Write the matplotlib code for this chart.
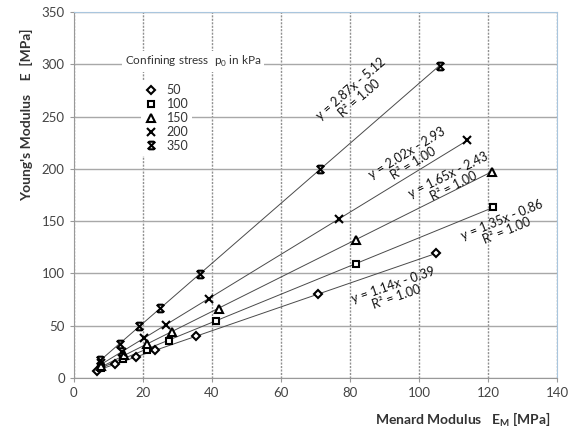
import matplotlib.pyplot as plt
from matplotlib.path import Path
import numpy as np

plt.rcParams['font.family'] = ['Lato', 'DejaVu Sans']

# Dữ liệu
stress = ['50', '100', '150', '200', '350']

em_50 = [6.6, 11.9, 18.0, 23.5, 35.3, 70.7, 105.0]
e_50 = [6.7, 13.4, 19.8, 26.8, 40.1, 80.0, 119.8]

em_100 = [7.8, 14.3, 21.1, 27.7, 41.2, 81.6, 121.5]
e_100 = [9.3, 18.2, 26.8, 35.7, 54.5, 109.0, 163.8]

em_150 = [8.0, 14.5, 21.1, 28.4, 42.1, 81.6, 121.0]
e_150 = [11.8, 22.0, 33.0, 43.7, 66.0, 132.0, 197.0]

em_200 = [8.0, 14.0, 20.3, 26.6, 39.2, 76.8, 114.0]
e_200 = [14.0, 25.0, 38.0, 50.7, 75.5, 152.0, 227.5]

em_350 = [7.7, 13.4, 19.0, 25.0, 36.6, 71.2, 106.0]
e_350 = [17.0, 33.0, 50.0, 67.0, 99.4, 199.8, 298.0]

slopes = [1.14, 1.35, 1.65, 2.02, 2.87]
intercepts = [-0.39, -0.86, -2.43, -2.93, -5.12]
r2 = [1.00, 1.00, 1.00, 1.00, 1.00]

# vị trí nhãn phương trình
label_x = [93, 124.6, 109.2, 97.3, 81.5]
label_y = [83, 146, 189, 210, 272]

# marker kiểu X có gạch trên/dưới
verts = [(-1, -1), (1, 1), (-1, 1), (1, -1), (-0.7, 1), (0.7, 1), (-0.7, -1), (0.7, -1)]
codes = [Path.MOVETO, Path.LINETO] * 4
xbar = Path(verts, codes)

markers = ['D', 's', '^', 'x', xbar]
msizes = [4, 5, 5.5, 5.5, 5.5]

fig = plt.figure(figsize=(5.68, 4.32), dpi=100)
ax = fig.add_axes([0.130, 0.125, 0.851, 0.847])

xs = [em_50, em_100, em_150, em_200, em_350]
ys = [e_50, e_100, e_150, e_200, e_350]

handles = []
for i in range(5):
    x = np.array(xs[i])
    xl = np.array([x.min(), x.max()])
    ax.plot(xl, slopes[i] * xl + intercepts[i], color='#4a4a4a', lw=0.7, zorder=2)
    h, = ax.plot(x, ys[i], linestyle='none', marker=markers[i], ms=msizes[i],
                 mfc='white', mec='black', mew=1.5, zorder=3, label=stress[i])
    handles.append(h)
    sign = '-' if intercepts[i] < 0 else '+'
    txt = f'y = {slopes[i]:.2f}x {sign} {abs(intercepts[i]):.2f}\nR² = {r2[i]:.2f}'
    ax.text(label_x[i], label_y[i], txt, rotation=np.degrees(np.arctan(slopes[i])),
            transform_rotates_text=True, rotation_mode='anchor',
            ha='center', va='center', fontsize=9, color='#111111',
            linespacing=1.0, zorder=4)

ax.set_xlim(0, 140)
ax.set_ylim(0, 350)
ax.set_xticks(range(0, 141, 20))
ax.set_yticks(range(0, 351, 50))

ax.grid(True, axis='y', color='#a8a8a8', lw=1.0, zorder=0)
ax.grid(True, axis='x', color='#909090', lw=1.0, ls=(0, (1.5, 1)), zorder=0)
ax.set_axisbelow(True)

for s in ['top', 'right']:
    ax.spines[s].set_color('#a9c6de')
for s in ['left', 'bottom']:
    ax.spines[s].set_color('#999999')
ax.tick_params(colors='#999999', labelcolor='#444444', labelsize=9.5, length=3)

ax.set_ylabel("Young's Modulus    E  [MPa]", fontsize=10, fontweight='bold', color='#333333')
ax.yaxis.set_label_coords(-0.085, 0.72)
ax.set_xlabel('Menard Modulus   E$_\\mathregular{M}$ [MPa]', fontsize=10,
              fontweight='bold', color='#333333', ha='right', va='center')
ax.xaxis.set_label_coords(0.985, -0.115)

# tiêu đề chú thích
ax.text(0.105, 0.865, 'Confining stress  p$_\\mathregular{0}$ in kPa', transform=ax.transAxes,
        fontsize=8.5, color='#333333', va='center', ha='left', zorder=5,
        bbox=dict(facecolor='white', edgecolor='none', pad=2))

leg = ax.legend(handles=handles, loc='upper left', bbox_to_anchor=(0.125, 0.83),
                frameon=True, fontsize=9, labelspacing=0.15, handlelength=1.0,
                handletextpad=0.8, borderpad=0.3, fancybox=False)
leg.get_frame().set_edgecolor('none')
leg.get_frame().set_facecolor('white')
leg.get_frame().set_alpha(1)
for t in leg.get_texts():
    t.set_color('#333333')

fig.savefig('out.png', dpi=100)
